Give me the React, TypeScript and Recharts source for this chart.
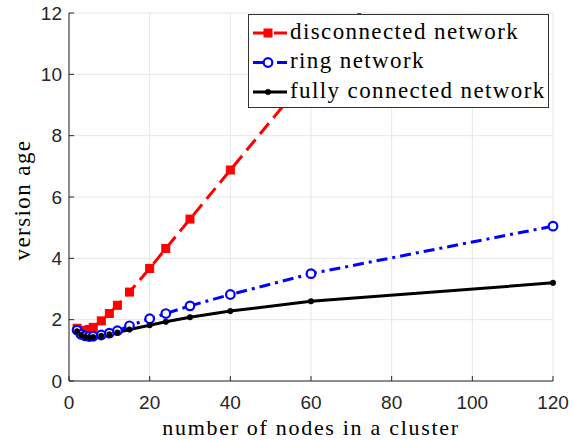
import React from 'react';
import { LineChart, Line, XAxis, YAxis, CartesianGrid, Legend } from 'recharts';

const nodes = [2, 3, 4, 5, 6, 8, 10, 12, 15, 20, 24, 30, 40, 60, 120];
const disconnected = [1.72, 1.65, 1.64, 1.68, 1.75, 1.96, 2.2, 2.47, 2.9, 3.67, 4.32, 5.28, 6.88, 10.07, 19.67];
const ring = [1.66, 1.52, 1.47, 1.45, 1.46, 1.5, 1.56, 1.64, 1.8, 2.03, 2.2, 2.45, 2.82, 3.5, 5.05];
const fully = [1.62, 1.5, 1.44, 1.42, 1.43, 1.47, 1.52, 1.58, 1.68, 1.82, 1.93, 2.08, 2.28, 2.6, 3.2];

const xTicks = [0, 20, 40, 60, 80, 100, 120];
const yTicks = [0, 2, 4, 6, 8, 10, 12];

const seriesNames = ['disconnected network', 'ring network', 'fully connected network'];
const seriesKeys = ['disconnected', 'ring', 'fully'];
const seriesColors = ['#ff0000', '#0000ff', '#000000'];
const seriesDash = ['14 7', '11 5 3 5', undefined];
const seriesMarkers = ['square', 'circle', 'dot'];

const data = nodes.map((x, i) => ({ x, disconnected: disconnected[i], ring: ring[i], fully: fully[i] }));

const serif = 'Liberation Serif';
const sans = 'Liberation Sans';
const axisColor = '#262626';

function Marker({ kind, cx, cy, color }: { kind: string; cx: number; cy: number; color: string }) {
  if (cx == null || cy == null || isNaN(cx) || isNaN(cy)) return null;
  if (kind === 'square') {
    return <rect x={cx - 4} y={cy - 4} width={8} height={8} fill={color} stroke={color} strokeWidth={1} />;
  }
  if (kind === 'circle') {
    return <circle cx={cx} cy={cy} r={4.3} fill="#ffffff" stroke={color} strokeWidth={2.2} />;
  }
  return <circle cx={cx} cy={cy} r={2.8} fill={color} stroke={color} strokeWidth={0.5} />;
}

function makeDot(i: number) {
  return (props: any) => (
    <Marker key={`dot-${i}-${props.index}`} kind={seriesMarkers[i]} cx={props.cx} cy={props.cy} color={seriesColors[i]} />
  );
}

function LegendBox() {
  return (
    <div style={{ width: 301, height: 94, border: '1px solid #333', background: '#fff', boxSizing: 'border-box' }}>
      <svg width={299} height={92} style={{ display: 'block' }}>
        {seriesNames.map((name, i) => {
          const ly = 18 + i * 29.5;
          return (
            <g key={name}>
              <line x1={4} x2={38} y1={ly} y2={ly} stroke={seriesColors[i]} strokeWidth={3} strokeDasharray={seriesDash[i]} />
              <Marker kind={seriesMarkers[i]} cx={19} cy={ly} color={seriesColors[i]} />
              <text x={41} y={ly + 5.5} style={{ fontFamily: serif }} fontSize={23} letterSpacing={1.4} fill="#000">
                {name}
              </text>
            </g>
          );
        })}
      </svg>
    </div>
  );
}

export default function App() {
  return (
    <div style={{ position: 'absolute', left: 0, top: 0, width: 573, height: 440, background: '#fff' }}>
      <LineChart width={573} height={440} data={data} margin={{ top: 13, right: 20, bottom: 0, left: 0 }}>
        <CartesianGrid stroke="#e6e6e6" strokeWidth={1} />
        <XAxis
          dataKey="x"
          type="number"
          domain={[0, 120]}
          ticks={xTicks}
          height={59}
          tickSize={-5}
          tickMargin={20}
          stroke={axisColor}
          axisLine={{ stroke: axisColor }}
          tickLine={{ stroke: axisColor }}
          tick={{ fill: axisColor, fontSize: 19, fontFamily: sans }}
          label={{
            content: (p: any) => {
              const vb = p.viewBox || { x: 69, width: 484 };
              return (
                <text x={vb.x + vb.width / 2} y={435} textAnchor="middle" style={{ fontFamily: serif }} fontSize={22} letterSpacing={1.7} fill="#000">
                  number of nodes in a cluster
                </text>
              );
            },
          }}
        />
        <XAxis
          xAxisId="top"
          orientation="top"
          dataKey="x"
          type="number"
          domain={[0, 120]}
          ticks={xTicks}
          height={0}
          tickSize={-5}
          tick={false}
          axisLine={{ stroke: axisColor }}
          tickLine={{ stroke: axisColor }}
        />
        <YAxis
          type="number"
          domain={[0, 12]}
          ticks={yTicks}
          allowDataOverflow
          width={69}
          tickSize={-5}
          tickMargin={12}
          axisLine={{ stroke: axisColor }}
          tickLine={{ stroke: axisColor }}
          tick={{ fill: axisColor, fontSize: 19, fontFamily: sans }}
          label={{
            content: () => (
              <text x={30} y={200} transform="rotate(-90, 30, 200)" textAnchor="middle" style={{ fontFamily: serif }} fontSize={23} letterSpacing={1.4} fill="#000">
                version age
              </text>
            ),
          }}
        />
        <YAxis
          yAxisId="right"
          orientation="right"
          type="number"
          domain={[0, 12]}
          ticks={yTicks}
          width={0}
          tickSize={-5}
          tick={false}
          axisLine={{ stroke: axisColor }}
          tickLine={{ stroke: axisColor }}
        />
        {seriesKeys.map((k, i) => (
          <Line
            key={k}
            type="linear"
            dataKey={k}
            name={seriesNames[i]}
            stroke={seriesColors[i]}
            strokeWidth={3}
            strokeDasharray={seriesDash[i]}
            dot={makeDot(i)}
            activeDot={false}
            isAnimationActive={false}
          />
        ))}
        <Legend
          layout="vertical"
          align="center"
          verticalAlign="middle"
          content={() => <LegendBox />}
          wrapperStyle={{ position: 'absolute', left: 248, top: 14, width: 301, height: 94 }}
        />
      </LineChart>
    </div>
  );
}
